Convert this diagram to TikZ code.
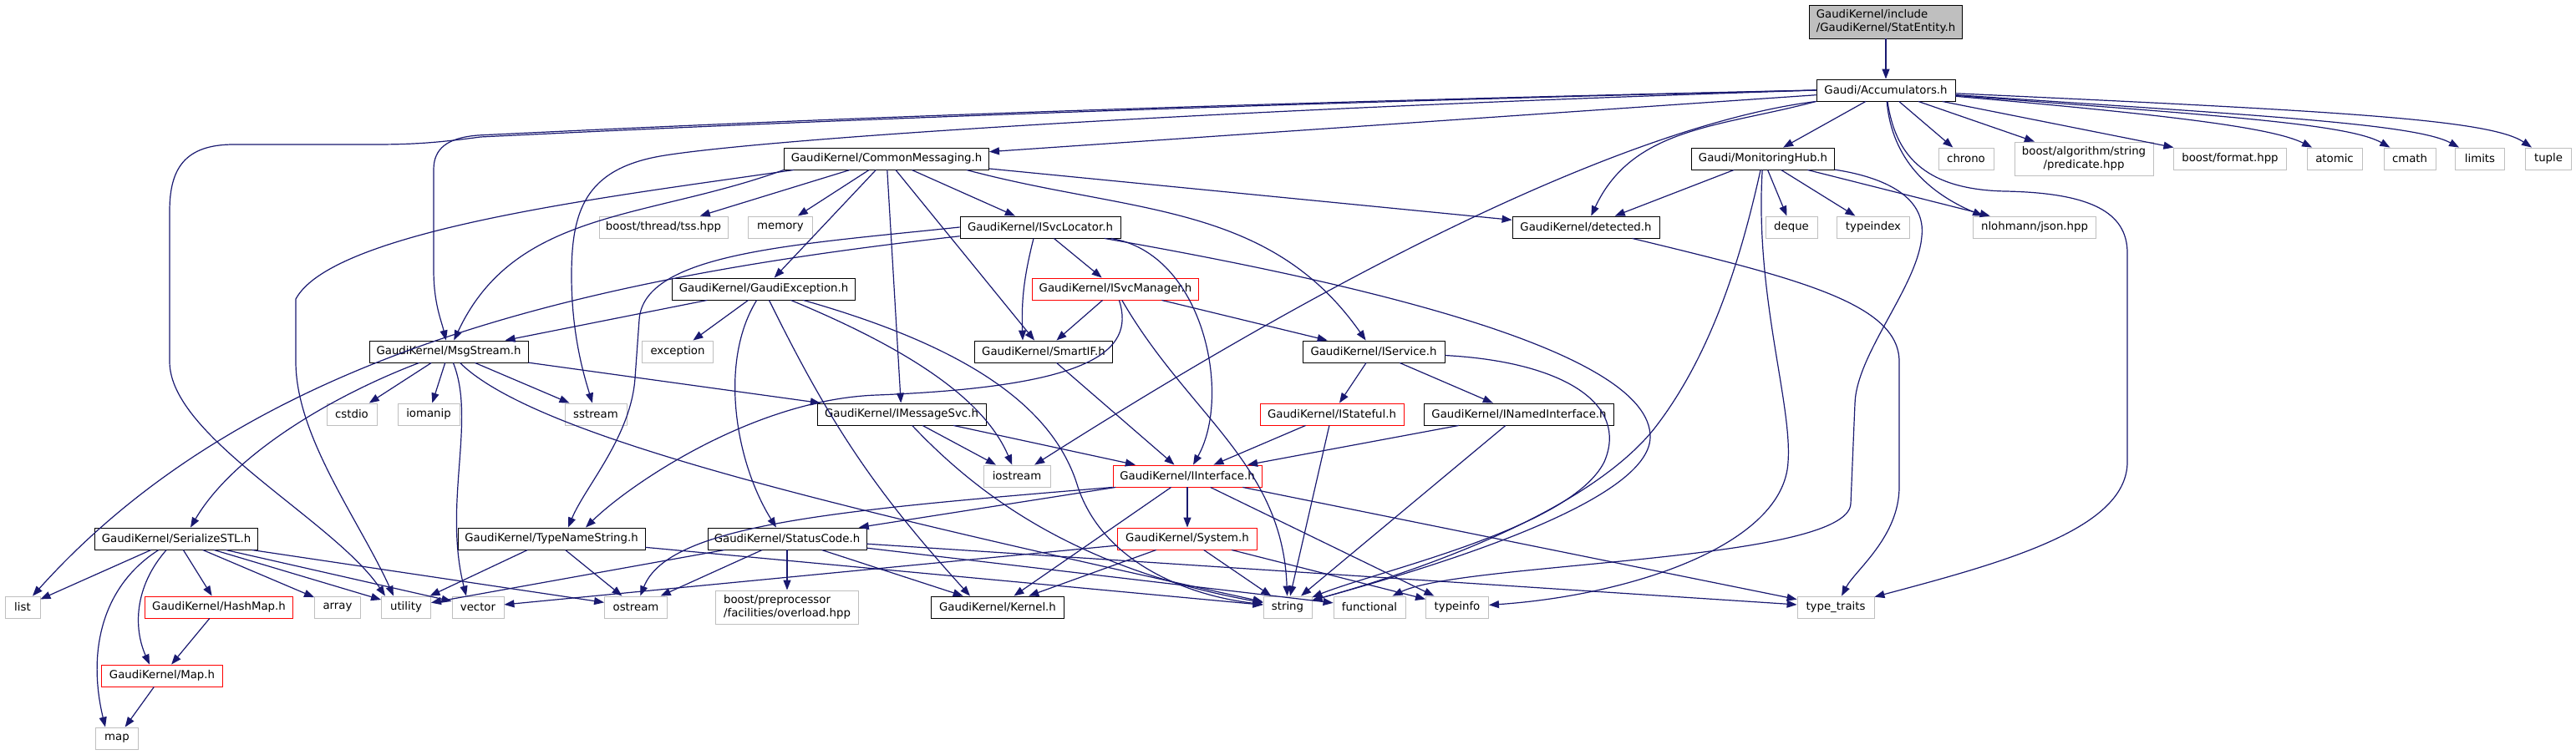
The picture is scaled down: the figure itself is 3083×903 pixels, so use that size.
\documentclass[tikz,border=0pt]{standalone}
\usepackage{fontspec}
\setmainfont{DejaVu Sans}
\usepackage{tikz}
\usetikzlibrary{arrows.meta}
\definecolor{edgeblue}{HTML}{191970}
\definecolor{sysgray}{HTML}{BFBFBF}
\definecolor{truncred}{HTML}{FF0000}
\begin{document}
\begin{tikzpicture}[x=1pt, y=1pt, ->, >={Triangle[length=12pt,width=9pt]}, dep/.style={draw=edgeblue, line width=1.2pt}, filenode/.style={rectangle, draw=black, fill=white, line width=0.9pt, minimum height=26, inner sep=0pt, font=\fontsize{13.3}{15.5}\selectfont}, sysnode/.style={filenode, draw=sysgray}, truncnode/.style={filenode, draw=truncred}, rootnode/.style={filenode, fill=sysgray, minimum height=40, align=left}]
		\useasboundingbox (0,0) rectangle (3083,903);
		\node[rootnode, minimum width=183] (0) at (2257,877) {GaudiKernel/include\\/GaudiKernel/StatEntity.h};
		\node[filenode, minimum width=166] (1) at (2257,795) {Gaudi/Accumulators.h};
		\node[filenode, minimum width=245] (2) at (1061,713) {GaudiKernel/CommonMessaging.h};
		\node[filenode, minimum width=171] (3) at (2110,713) {Gaudi/MonitoringHub.h};
		\node[sysnode, minimum width=66] (4) at (2353,713) {chrono};
		\node[sysnode, minimum width=166, minimum height=40, align=center] (5) at (2494,713) {boost/algorithm/string\\/predicate.hpp};
		\node[sysnode, minimum width=135] (6) at (2669,713) {boost/format.hpp};
		\node[sysnode, minimum width=66] (7) at (2794,713) {atomic};
		\node[sysnode, minimum width=62] (8) at (2884,713) {cmath};
		\node[sysnode, minimum width=59] (9) at (2968,713) {limits};
		\node[sysnode, minimum width=55] (10) at (3050,713) {tuple};
		\node[sysnode, minimum width=154] (11) at (794,631) {boost/thread/tss.hpp};
		\node[sysnode, minimum width=77] (12) at (934,631) {memory};
		\node[filenode, minimum width=192] (13) at (1245,631) {GaudiKernel/ISvcLocator.h};
		\node[filenode, minimum width=176] (14) at (1898,631) {GaudiKernel/detected.h};
		\node[sysnode, minimum width=62] (15) at (2144,631) {deque};
		\node[sysnode, minimum width=87] (16) at (2242,631) {typeindex};
		\node[sysnode, minimum width=147] (17) at (2435,631) {nlohmann/json.hpp};
		\node[filenode, minimum width=219] (18) at (914,557) {GaudiKernel/GaudiException.h};
		\node[truncnode, minimum width=199] (19) at (1335,557) {GaudiKernel/ISvcManager.h};
		\node[filenode, minimum width=190] (20) at (537,482) {GaudiKernel/MsgStream.h};
		\node[sysnode, minimum width=85] (21) at (811,482) {exception};
		\node[filenode, minimum width=165] (22) at (1249,482) {GaudiKernel/SmartIF.h};
		\node[filenode, minimum width=170] (23) at (1644,482) {GaudiKernel/IService.h};
		\node[sysnode, minimum width=60] (24) at (421,407) {cstdio};
		\node[sysnode, minimum width=74] (25) at (513,407) {iomanip};
		\node[sysnode, minimum width=74] (26) at (713,407) {sstream};
		\node[filenode, minimum width=202] (27) at (1079,407) {GaudiKernel/IMessageSvc.h};
		\node[truncnode, minimum width=172] (28) at (1594,407) {GaudiKernel/IStateful.h};
		\node[filenode, minimum width=227] (29) at (1818,407) {GaudiKernel/INamedInterface.h};
		\node[sysnode, minimum width=80] (30) at (1217,333) {iostream};
		\node[truncnode, minimum width=178] (31) at (1421,333) {GaudiKernel/IInterface.h};
		\node[filenode, minimum width=195] (32) at (211,258) {GaudiKernel/SerializeSTL.h};
		\node[filenode, minimum width=224] (33) at (660,258) {GaudiKernel/TypeNameString.h};
		\node[filenode, minimum width=190] (34) at (942,258) {GaudiKernel/StatusCode.h};
		\node[truncnode, minimum width=167] (35) at (1421,258) {GaudiKernel/System.h};
		\node[sysnode, minimum width=42] (36) at (27,176) {list};
		\node[truncnode, minimum width=177] (37) at (262,176) {GaudiKernel/HashMap.h};
		\node[sysnode, minimum width=55] (38) at (404,176) {array};
		\node[sysnode, minimum width=59] (39) at (486,176) {utility};
		\node[sysnode, minimum width=62] (40) at (572,176) {vector};
		\node[sysnode, minimum width=75] (41) at (761,176) {ostream};
		\node[sysnode, minimum width=171, minimum height=40, align=left] (42) at (942,176) {boost/preprocessor\\/facilities/overload.hpp};
		\node[filenode, minimum width=159] (43) at (1194,176) {GaudiKernel/Kernel.h};
		\node[sysnode, minimum width=58] (44) at (1541,176) {string};
		\node[sysnode, minimum width=86] (45) at (1639,176) {functional};
		\node[sysnode, minimum width=75] (46) at (1744,176) {typeinfo};
		\node[sysnode, minimum width=92] (47) at (2197,176) {type\_traits};
		\node[truncnode, minimum width=145] (48) at (194,94) {GaudiKernel/Map.h};
		\node[sysnode, minimum width=51] (49) at (140,19) {map};
		\draw[dep] (0) -- (1);
		\draw[dep] (1) -- (2);
		\draw[dep] (1) -- (3);
		\draw[dep] (1) -- (4);
		\draw[dep] (1) -- (5);
		\draw[dep] (1) -- (6);
		\draw[dep] (1) .. controls (2600,765) and (2720,750) .. (7);
		\draw[dep] (1) .. controls (2650,765) and (2810,755) .. (8);
		\draw[dep] (1) .. controls (2700,765) and (2890,755) .. (9);
		\draw[dep] (1) .. controls (2800,770) and (2980,760) .. (10);
		\draw[dep] (1) to[out=-85,in=157] ([xshift=12pt]17.north west);
		\draw[dep] (1.south west) to[out=195,in=65] (14);
		\draw[dep] (1.south west) .. controls (2000,760) and (1700,640) .. (30);
		\draw[dep] (1.west) .. controls (1400,770) and (900,735) .. (790,716) .. controls (700,700) and (684,650) .. (684,573) .. controls (684,500) and (700,450) .. (26);
		\draw[dep] (1.west) .. controls (1300,776) and (800,752) .. (572,741) .. controls (535,738) and (519,725) .. (519,700) -- (519,580) .. controls (519,540) and (528,520) .. (20);
		\draw[dep] (1.west) .. controls (1300,774) and (800,750) .. (575,739) .. controls (530,733) and (500,730) .. (450,730) -- (280,730) .. controls (220,730) and (203,700) .. (203,650) -- (203,470) .. controls (203,380) and (400,280) .. ([xshift=-25pt]39.north);
		\draw[dep] (1) .. controls (2268,720) and (2300,676) .. (2400,674) .. controls (2500,672) and (2546,650) .. (2546,600) -- (2546,350) .. controls (2546,270) and (2400,230) .. (47);
		\draw[dep] (2) -- (11);
		\draw[dep] (2) -- (12);
		\draw[dep] (2) -- (13);
		\draw[dep] (2) -- (14);
		\draw[dep] (2) -- (18);
		\draw[dep] (2) -- (22);
		\draw[dep] (2) -- (27);
		\draw[dep] (2.-8) to[out=-15,in=125] (23);
		\draw[dep] (2.south west) to[out=200,in=65] (20);
		\draw[dep] ([xshift=12pt]2.south west) .. controls (750,670) and (400,630) .. (354,545) -- (354,470) .. controls (354,380) and (430,280) .. ([xshift=-15pt]39.north);
		\draw[dep] (3) -- (14);
		\draw[dep] (3) -- (15);
		\draw[dep] (3) -- (16);
		\draw[dep] (3) -- (17);
		\draw[dep] (3) .. controls (2085,600) and (2050,480) .. (1980,390) .. controls (1900,290) and (1700,220) .. (44);
		\draw[dep] (3) .. controls (2100,550) and (2145,420) .. (2140,350) .. controls (2135,250) and (1950,190) .. (46);
		\draw[dep] (3) .. controls (2260,690) and (2305,665) .. (2300,620) .. controls (2295,560) and (2222,480) .. (2220,420) -- (2215,300) .. controls (2212,230) and (1750,230) .. (45);
		\draw[dep] (13) -- (19);
		\draw[dep] ([xshift=-8pt]13.south) to[bend right=8] ([xshift=-25pt]22.north);
		\draw[dep] (13) .. controls (1440,600) and (1475,430) .. ([xshift=7pt]31.north);
		\draw[dep] (13) .. controls (700,570) and (300,480) .. (36);
		\draw[dep] (13.west) .. controls (950,610) and (770,600) .. (765,520) -- (760,450) .. controls (755,380) and (700,320) .. ([xshift=20pt]33.north);
		\draw[dep] (13) .. controls (1650,560) and (1975,480) .. (1975,380) .. controls (1975,300) and (1700,220) .. (44);
		\draw[dep] (14) .. controls (2150,570) and (2273,540) .. (2273,470) -- (2273,320) .. controls (2273,260) and (2220,220) .. (47);
		\draw[dep] (18) -- (20);
		\draw[dep] (18) -- (21);
		\draw[dep] (18) .. controls (860,470) and (880,350) .. ([xshift=-13pt]34.north);
		\draw[dep] (18) to[bend right=8] ([xshift=-33pt]43.north);
		\draw[dep] (18) .. controls (1100,480) and (1180,420) .. (30);
		\draw[dep] (18) .. controls (1150,490) and (1260,420) .. (1290,320) .. controls (1320,230) and (1420,190) .. (44);
		\draw[dep] (19) -- (22);
		\draw[dep] (19) -- (23);
		\draw[dep] (19) .. controls (1360,480) and (1300,440) .. (1050,430) .. controls (900,425) and (750,320) .. ([xshift=41pt]33.north);
		\draw[dep] (19) to[out=-60,in=92] (44);
		\draw[dep] (20) .. controls (400,430) and (280,360) .. ([xshift=17pt]32.north);
		\draw[dep] (20) -- (24);
		\draw[dep] (20) -- (25);
		\draw[dep] (20) -- (26);
		\draw[dep] (20) -- (27);
		\draw[dep] (20) .. controls (570,400) and (530,300) .. ([xshift=-14pt]40.north);
		\draw[dep] (20) .. controls (640,380) and (1000,295) .. (44);
		\draw[dep] (27) -- (30);
		\draw[dep] (27) -- (31);
		\draw[dep] (27) .. controls (1180,300) and (1300,220) .. (44);
		\draw[dep] (22) -- (31);
		\draw[dep] (23) -- (28);
		\draw[dep] (23) -- (29);
		\draw[dep] (23) .. controls (1870,470) and (1950,420) .. (1920,350) .. controls (1880,270) and (1650,220) .. (44);
		\draw[dep] (28) -- (31);
		\draw[dep] (28) -- (44);
		\draw[dep] (29) -- (31);
		\draw[dep] (29) -- (44);
		\draw[dep] (31) -- (34);
		\draw[dep] (31.south west) .. controls (1000,292) and (800,275) .. (41);
		\draw[dep] (31) -- (43);
		\draw[dep] (31) -- (35);
		\draw[dep] (31) -- (46);
		\draw[dep] (31) -- (47);
		\draw[dep] (32) -- (36);
		\draw[dep] (32) -- (37);
		\draw[dep] (32) -- (38);
		\draw[dep] (32) -- (39);
		\draw[dep] (32) -- (40);
		\draw[dep] (32) -- (41);
		\draw[dep] (32) .. controls (160,200) and (160,150) .. ([xshift=-15pt]48.north);
		\draw[dep] (32) .. controls (120,200) and (105,120) .. ([xshift=-14pt]49.north);
		\draw[dep] (33) -- (39);
		\draw[dep] (33) -- (41);
		\draw[dep] (33) -- (44);
		\draw[dep] (34) -- (39);
		\draw[dep] (34) -- (41);
		\draw[dep] (34) -- (42);
		\draw[dep] (34) -- (43);
		\draw[dep] (34) -- (45);
		\draw[dep] (34) -- (47);
		\draw[dep] (35) -- (40);
		\draw[dep] (35) -- (43);
		\draw[dep] (35) -- (44);
		\draw[dep] (35) -- (46);
		\draw[dep] (37) -- (48);
		\draw[dep] (48) -- (49);
	\end{tikzpicture}
\end{document}
